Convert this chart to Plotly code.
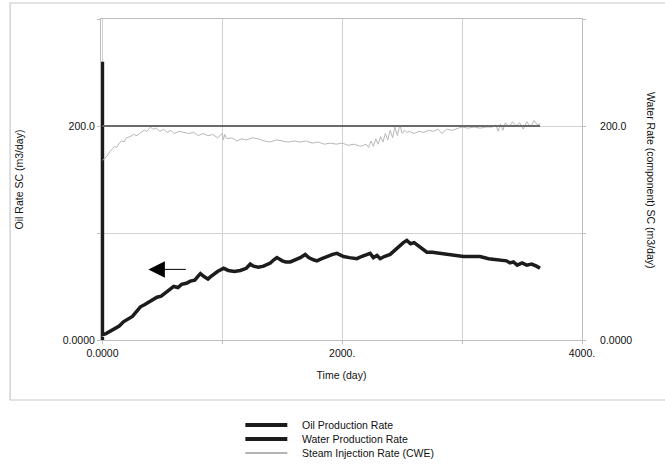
import plotly.graph_objects as go

# ---------------- data ----------------
oil_t = [0, 0, 0, 30, 60, 100, 140, 175, 210, 250, 280, 317, 350, 380, 420, 455, 490, 520, 560,
         594, 630, 660, 700, 733, 770, 800, 817, 850, 880, 900, 930, 960, 1011, 1050, 1100, 1150,
         1200, 1233, 1260, 1300, 1344, 1400, 1430, 1455, 1500, 1530, 1567, 1610, 1650, 1692, 1720,
         1760, 1789, 1830, 1870, 1920, 1956, 2011, 2060, 2100, 2122, 2160, 2200, 2233, 2260, 2290,
         2317, 2350, 2400, 2440, 2483, 2510, 2539, 2570, 2600, 2622, 2660, 2706, 2750, 2817, 2860,
         2928, 2970, 3011, 3080, 3150, 3220, 3289, 3330, 3370, 3400, 3428, 3460, 3500, 3539, 3580,
         3620, 3650]
oil_v = [0, 260, 5, 6, 8, 11, 13, 17, 19, 22, 26, 31, 33, 35, 37, 40, 41, 44, 47,
         50, 49, 52, 53, 55, 56, 60, 62, 59, 57, 59, 62, 64, 67, 65, 64, 65,
         67, 71, 69, 68, 69, 72, 75, 77, 74, 73, 73, 75, 77, 80, 77,
         75, 74, 76, 78, 80, 81, 78, 77, 76, 76, 78, 80, 81, 77, 79,
         76, 78, 80, 84, 89, 91, 93, 90, 91, 89, 86, 82, 82, 81, 80,
         79, 79, 78, 78, 78, 76, 75, 74, 74, 72, 73, 70, 72, 70, 71,
         69, 67]

steam_t = [0, 20, 40, 60, 80, 100, 120, 140, 160, 180, 200, 230, 260, 290, 320, 350, 370, 400,
           420, 450, 480, 510, 540, 570, 600, 640, 680, 720, 760, 800, 840, 880, 920, 960, 1000,
           1010, 1020, 1040, 1080, 1120, 1160, 1200, 1250, 1300, 1350, 1400, 1450, 1500, 1550,
           1600, 1650, 1700, 1750, 1800, 1850, 1900, 1950, 2000, 2050, 2100, 2150, 2200, 2220,
           2240, 2260, 2280, 2300, 2320, 2340, 2360, 2380, 2400, 2420, 2440, 2460, 2480, 2500,
           2520, 2540, 2560, 2600, 2640, 2680, 2720, 2760, 2800, 2830, 2870, 2920, 2970, 3000,
           3050, 3100, 3150, 3200, 3250, 3280, 3300, 3320, 3340, 3360, 3390, 3420, 3450, 3480,
           3510, 3540, 3570, 3600, 3630, 3650]
steam_v = [168, 170, 172, 176, 178, 181, 180, 184, 186, 185, 189, 190, 192, 191, 194, 196, 195, 199,
           197, 198, 195, 197, 194, 196, 193, 195, 194, 193, 194, 191, 193, 191, 192, 189, 193,
           187, 192, 188, 189, 186, 188, 187, 189, 188, 186, 185, 187, 186, 185,
           186, 185, 186, 184, 185, 183, 184, 183, 184, 182, 183, 181, 183, 180,
           186, 181, 188, 183, 190, 185, 193, 187, 196, 189, 199, 191, 201, 193,
           196, 194, 195, 193, 195, 194, 196, 195, 197, 193, 197, 196, 198, 199,
           198, 199, 198, 199, 199, 201, 195, 202, 196, 203, 199, 204, 200, 203,
           197, 204, 199, 205, 201, 202]

water_t = [0, 3650]
water_v = [200, 200]

x_ticks = [0, 1000, 2000, 3000, 4000]
x_ticktext = ["0.0000", "", "2000.", "", "4000."]
y_ticks = [0, 100, 200, 300]
y_ticktext = ["0.0000", "", "200.0", ""]

legend_names = ["Oil Production Rate", "Water Production Rate", "Steam Injection Rate (CWE)"]
legend_colors = ["#1c1c1c", "#1c1c1c", "#9a9a9a"]
legend_widths = [4, 4, 1.5]

FONT = "Arial, Liberation Sans, sans-serif"

fig = go.Figure()
fig.add_trace(go.Scatter(x=steam_t, y=steam_v, mode="lines", yaxis="y2",
                         line=dict(color="#b8b8b8", width=1), name=legend_names[2],
                         showlegend=False))
fig.add_trace(go.Scatter(x=water_t, y=water_v, mode="lines", yaxis="y2",
                         line=dict(color="#6a6a6a", width=2), name=legend_names[1],
                         showlegend=False))
fig.add_trace(go.Scatter(x=oil_t, y=oil_v, mode="lines",
                         line=dict(color="#1c1c1c", width=3.5), name=legend_names[0],
                         showlegend=False))

L, R, T, B = 100.5, 83, 19, 125
W, H = 665, 465
pw = W - L - R
ph = H - T - B


def px(xp):
    return (xp - L) / pw


def py(yp):
    return (H - B - yp) / ph


shapes = []
annotations = []
# outer frame
shapes.append(dict(type="rect", xref="paper", yref="paper", x0=px(9.5), x1=px(670),
                   y0=py(400), y1=py(3), line=dict(color="#c8c8c8", width=1.2),
                   layer="below"))
# legend
rows = [425, 439, 453]
for name, col, wd, yr in zip(legend_names, legend_colors, legend_widths, rows):
    shapes.append(dict(type="line", xref="paper", yref="paper", x0=px(245), x1=px(287),
                       y0=py(yr), y1=py(yr), line=dict(color=col, width=wd)))
    annotations.append(dict(xref="paper", yref="paper", x=px(300), y=py(yr), text=name,
                            showarrow=False, xanchor="left", yanchor="middle",
                            font=dict(family=FONT, size=10.5, color="#111")))
# arrow pointing to left axis
annotations.append(dict(x=383, y=66, xref="x", yref="y", ax=708, ay=66, axref="x", ayref="y",
                        text="", showarrow=True, arrowhead=2, arrowsize=3.3, arrowwidth=1,
                        arrowcolor="#000", standoff=0))
# right axis title
annotations.append(dict(xref="paper", yref="paper", x=px(651), y=py(180),
                        text="Water Rate (component) SC (m3/day)", showarrow=False,
                        textangle=90, xanchor="center", yanchor="middle",
                        font=dict(family=FONT, size=10.5, color="#111")))

axis_common = dict(showline=True, linecolor="#bdbdbd", linewidth=1, ticks="outside",
                   ticklen=3, tickcolor="#bdbdbd", tickfont=dict(family=FONT, size=10.5, color="#111"),
                   zeroline=False)

fig.update_layout(
    width=W, height=H,
    margin=dict(l=L, r=R, t=T, b=B, autoexpand=False),
    paper_bgcolor="white", plot_bgcolor="white",
    showlegend=False,
    xaxis=dict(range=[-12, 4000], tickvals=x_ticks, ticktext=x_ticktext, mirror=True,
               showgrid=True, gridcolor="#d2d2d2", gridwidth=1,
               title=dict(text="Time (day)", font=dict(family=FONT, size=10.5, color="#111"),
                          standoff=14),
               **axis_common),
    yaxis=dict(range=[0, 300], tickvals=y_ticks, ticktext=y_ticktext, mirror=True,
               showgrid=True, gridcolor="#d2d2d2", gridwidth=1,
               title=dict(text="Oil Rate SC (m3/day)", font=dict(family=FONT, size=10.5, color="#111"),
                          standoff=37),
               **axis_common),
    yaxis2=dict(range=[0, 300], tickvals=y_ticks, ticktext=y_ticktext, overlaying="y",
                side="right", showgrid=False, ticklabelstandoff=12, **axis_common),
    shapes=shapes,
    annotations=annotations,
)

fig.write_html("out.html")
